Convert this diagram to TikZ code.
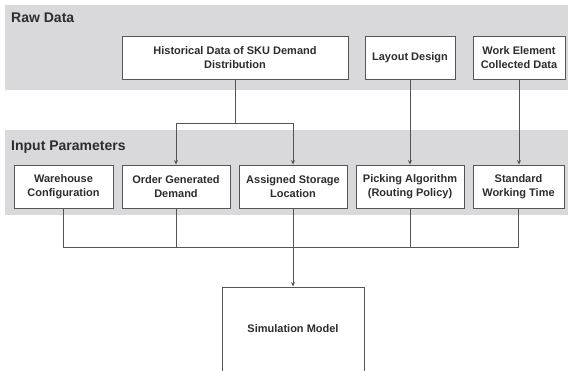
\documentclass[tikz,border=0pt]{standalone}
\usepackage{fontspec}
\setmainfont{Liberation Sans}
\usepackage{xcolor}
\usepackage{tikz}
\usetikzlibrary{arrows.meta,positioning,calc}
\definecolor{bandgray}{RGB}{217, 217, 219}
\definecolor{edgegray}{RGB}{85, 85, 85}
\definecolor{textgray}{RGB}{45, 45, 45}

\tikzset{
    databox/.style={draw=edgegray, line width=0.9pt, fill=white, align=center,
        font=\fontsize{11}{14}\selectfont\bfseries, text=textgray,
        minimum height=43pt, inner sep=2pt},
    bandlabel/.style={anchor=west, font=\fontsize{14}{16}\selectfont\bfseries, text=textgray, inner sep=0pt},
    link/.style={draw=edgegray, line width=0.7pt}
}

\begin{document}
\begin{tikzpicture}[x=1pt, y=-1pt, >={Stealth[length=4.5pt,width=4pt]}]
        \useasboundingbox (0,0) rectangle (568,370);

        % Raw data band
        \fill[bandgray] (5,5) rectangle (568,90);
        \node[bandlabel] (rawlbl) at (11,18) {Raw Data};

        \node[databox, minimum width=226pt] (hist) at (235,57.5) {Historical Data of SKU Demand\\Distribution};
        \node[databox, minimum width=90pt] (layout) at (410,57.5) {Layout Design};
        \node[databox, minimum width=92pt] (workel) at (519,57.5) {Work Element\\Collected Data};

        % Input parameters band
        \fill[bandgray] (5,130) rectangle (568,215);
        \node[bandlabel] (inlbl) at (11,147) {Input Parameters};

        \node[databox, minimum width=99pt] (whconf) at (63.5,186.5) {Warehouse\\Configuration};
        \node[databox, minimum width=108pt] (ordgen) at (176,186.5) {Order Generated\\Demand};
        \node[databox, minimum width=108pt] (assign) at (293,186.5) {Assigned Storage\\Location};
        \node[databox, minimum width=108pt] (picking) at (410,186.5) {Picking Algorithm\\(Routing Policy)};
        \node[databox, minimum width=91pt] (stdtime) at (518.5,186.5) {Standard\\Working Time};

        % Simulation model
        \node[databox, minimum width=142pt, minimum height=84pt] (simmod) at (293,329) {Simulation Model};

        % Raw data to input parameters
        \coordinate (split) at (235,123);
        \draw[link] (hist.south) -- (split);
        \draw[link, ->] (split) -| (ordgen.north);
        \draw[link, ->] (split) -| (assign.north);
        \draw[link, ->] (layout.south) -- (picking.north);
        \draw[link, ->] (workel.south) -- (workel.south |- stdtime.north);

        % Input parameters to simulation
        \coordinate (merge) at (293,247);
        \foreach \src in {whconf, ordgen, picking, stdtime}
            \draw[link] (\src.south) |- (merge);
        \draw[link, ->] (assign.south) -- (simmod.north);
\end{tikzpicture}
\end{document}
